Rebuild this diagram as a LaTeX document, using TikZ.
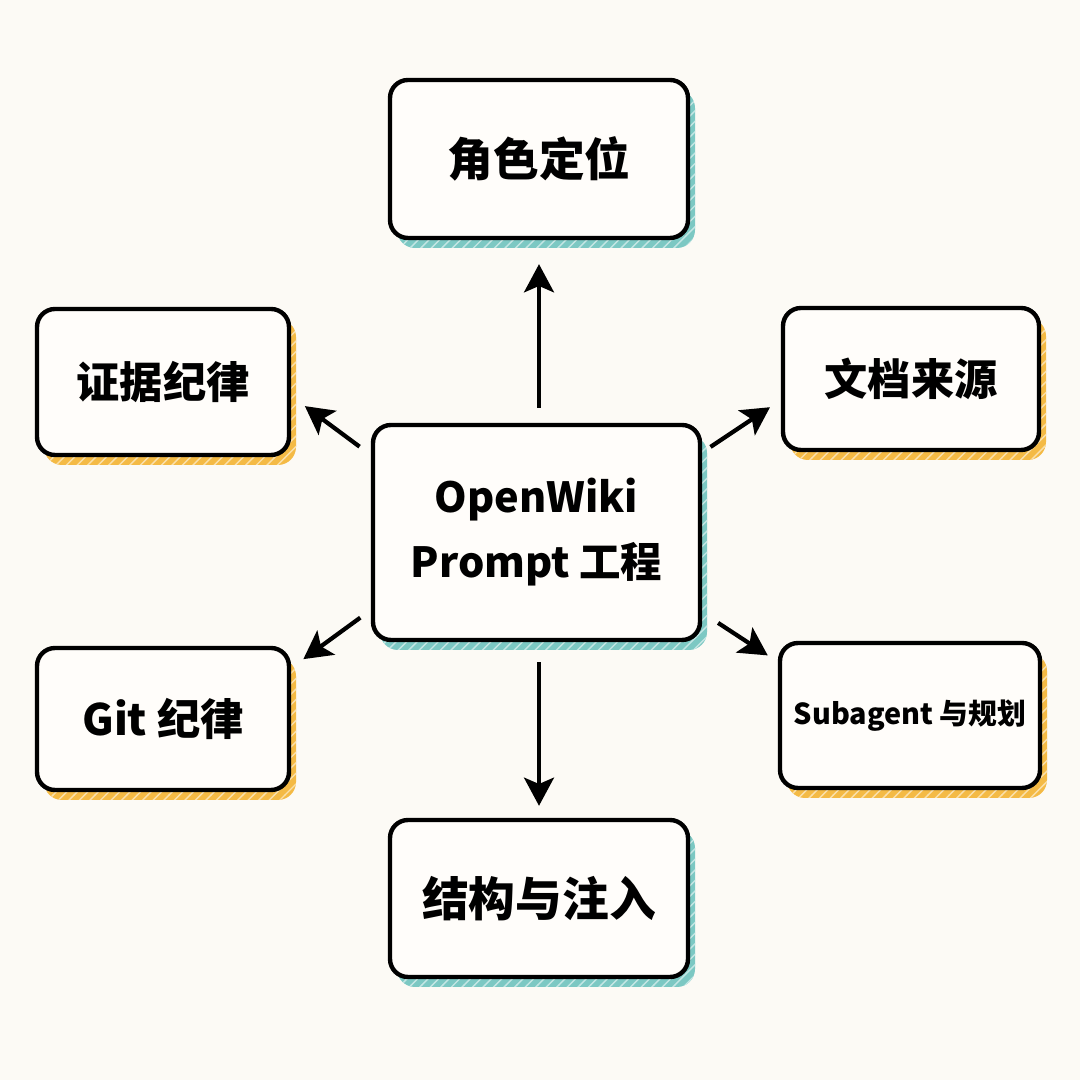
\documentclass[tikz,border=0pt]{standalone}
\usepackage{fontspec}
\newfontfamily\cjk{Noto Sans CJK SC}
\usetikzlibrary{arrows.meta,patterns}
\definecolor{paper}{HTML}{FCFAF5}
\definecolor{boxfill}{HTML}{FFFDFA}
\definecolor{shteal}{HTML}{7CC8C3}
\definecolor{shorange}{HTML}{F4BA45}
\tikzset{shadowed/.style={preaction={fill=#1, transform canvas={xshift=0.07cm,yshift=-0.1cm}}, preaction={pattern=north east lines, pattern color=white!55!#1, transform canvas={xshift=0.07cm,yshift=-0.1cm}}}}

\begin{document}
\begin{tikzpicture}[
  box/.style = {draw, line width=1.25pt, rounded corners=0.18cm, fill=boxfill, align=center, inner xsep=2pt, font=\cjk\bfseries},
  teal box/.style = {box, shadowed=shteal},
  orange box/.style = {box, shadowed=shorange},
  link/.style = {line width=1.2pt, -{Stealth[length=8pt,width=8.5pt,inset=1.8pt]}}]
\fill[paper] (0,0) rectangle (10.8,10.8);
\useasboundingbox (0,0) rectangle (10.8,10.8);
\node[teal box, minimum width=3.27cm, minimum height=2.15cm, font=\cjk\bfseries\fontsize{11.8}{18.5}\selectfont] (c) at (5.365,5.475) {OpenWiki\\Prompt 工程};
\node[teal box, minimum width=2.98cm, minimum height=1.58cm, font=\cjk\bfseries\fontsize{13}{15}\selectfont] (role) at (5.39,9.21) {角色定位};
\node[teal box, minimum width=2.98cm, minimum height=1.57cm, font=\cjk\bfseries\fontsize{13.3}{15}\selectfont] (inject) at (5.39,1.815) {结构与注入};
\node[orange box, minimum width=2.52cm, minimum height=1.46cm, font=\cjk\bfseries\fontsize{12.3}{14}\selectfont] (proof) at (1.63,6.98) {证据纪律};
\node[orange box, minimum width=2.56cm, minimum height=1.42cm, font=\cjk\bfseries\fontsize{12.3}{14}\selectfont] (docs) at (9.11,7.01) {文档来源};
\node[orange box, minimum width=2.52cm, minimum height=1.42cm, font=\cjk\bfseries\fontsize{12.3}{14}\selectfont] (git) at (1.63,3.61) {Git 纪律};
\node[orange box, minimum width=2.60cm, minimum height=1.45cm, font=\cjk\bfseries\fontsize{8.2}{10}\selectfont] (sub) at (9.10,3.645) {Subagent 与规划};
\draw[link, shorten <=0.15cm, shorten >=0.24cm] (role.south |- c.north) -- (role.south);
\draw[link, shorten <=0.2cm, shorten >=0.12cm] (inject.north |- c.south) -- (inject.north);
\draw[link, shorten <=0.14cm, shorten >=0.17cm] ([yshift=0.775cm]c.west) -- ([yshift=-0.14cm]proof.east);
\draw[link, shorten <=0.1cm, shorten >=0.13cm] ([yshift=0.8cm]c.east) -- ([yshift=-0.21cm]docs.west);
\draw[link, shorten <=0.13cm, shorten >=0.15cm] ([yshift=-0.775cm]c.west) -- ([yshift=0.51cm]git.east);
\draw[link, shorten <=0.19cm, shorten >=0.12cm] ([yshift=-0.8cm]c.east) -- ([yshift=0.535cm]sub.west);
\end{tikzpicture}
\end{document}
